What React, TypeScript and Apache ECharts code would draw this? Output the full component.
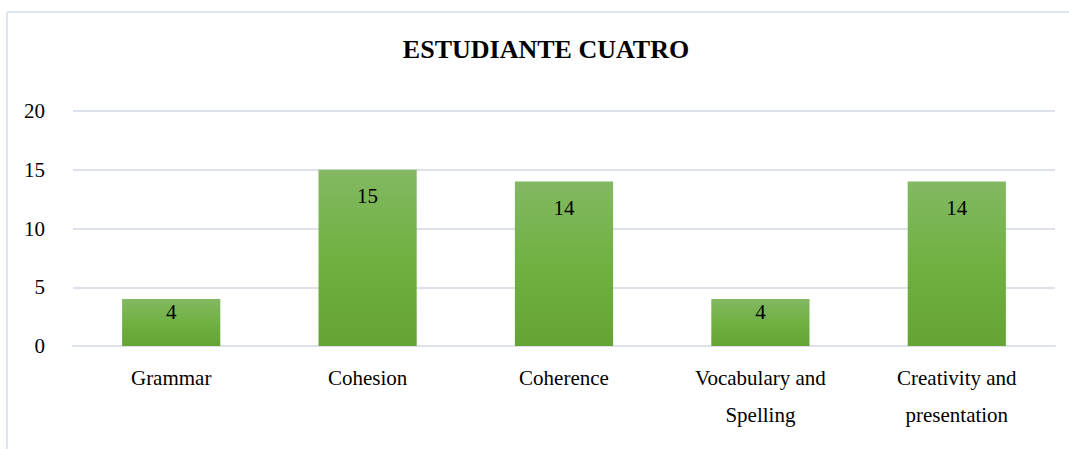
import React, { useEffect, useRef } from "react";
import * as echarts from "echarts";

const categories = ["Grammar", "Cohesion", "Coherence", "Vocabulary and\nSpelling", "Creativity and\npresentation"];
const values = [4, 15, 14, 4, 14];
const yTicks = { min: 0, max: 20, interval: 5 };
const titleText = "ESTUDIANTE CUATRO";

const FONT = "Liberation Serif";

export default function App() {
  const ref = useRef<HTMLDivElement>(null);
  useEffect(() => {
    if (!ref.current) return;
    const chart = echarts.init(ref.current, undefined, { renderer: "svg" });
    chart.setOption({
      animation: false,
      backgroundColor: "#ffffff",
      title: {
        text: titleText,
        left: 541,
        top: 31,
        textAlign: "center",
        textStyle: { fontFamily: FONT, fontSize: 26, fontWeight: "bold", color: "#000" },
      },
      graphic: [
        { type: "line", shape: { x1: 7, y1: 12, x2: 7, y2: 449 }, style: { stroke: "#e1e5ec", lineWidth: 2 } },
        { type: "line", shape: { x1: 7, y1: 12, x2: 1069, y2: 12 }, style: { stroke: "#e1e5ec", lineWidth: 2 } },
      ],
      grid: { left: 73, right: 14, top: 111, bottom: 103, containLabel: false },
      xAxis: {
        type: "category",
        data: categories,
        axisLine: { show: true, lineStyle: { color: "#dde1e9", width: 2 } },
        axisTick: { show: false },
        axisLabel: {
          fontFamily: FONT,
          fontSize: 21,
          color: "#000",
          margin: 13,
          lineHeight: 37,
          interval: 0,
        },
      },
      yAxis: {
        type: "value",
        min: yTicks.min,
        max: yTicks.max,
        interval: yTicks.interval,
        axisLine: { show: false },
        axisTick: { show: false },
        splitLine: { lineStyle: { color: "#dde1e9", width: 2 } },
        axisLabel: { fontFamily: FONT, fontSize: 21, color: "#000", margin: 28 },
      },
      series: [
        {
          type: "bar",
          data: values.map((v) => ({ value: v, label: { distance: v < 5 ? 2 : 16 } })),
          barWidth: "50%",
          itemStyle: {
            color: new echarts.graphic.LinearGradient(0, 0, 0, 1, [
              { offset: 0, color: "#83b862" },
              { offset: 0.5, color: "#70b142" },
              { offset: 1, color: "#64a334" },
            ]),
          },
          label: {
            show: true,
            position: "insideTop",
            distance: 16,
            fontFamily: FONT,
            fontSize: 21,
            color: "#000",
          },
        },
      ],
    });
    return () => chart.dispose();
  }, []);
  return <div ref={ref} style={{ position: "absolute", left: 0, top: 0, width: 1069, height: 449 }} />;
}
